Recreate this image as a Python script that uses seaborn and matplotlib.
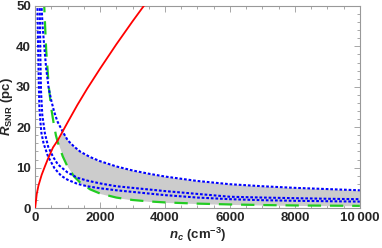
import numpy as np
import pandas as pd
import seaborn as sns
import matplotlib.pyplot as plt
from matplotlib.ticker import MultipleLocator, FixedLocator

# red: solid curve rising from origin
n_red = [0, 50, 100, 200, 300, 400, 550, 700, 850, 1000, 1300, 1600, 2000, 2500, 3000, 3400]
r_red = [0, 3.5, 5.5, 8.2, 10.3, 12.3, 15.0, 16.8, 19.0, 21.2, 25.5, 29.5, 34.5, 40.5, 46.2, 50.6]

# green dashed (lower edge of band) and upper blue dotted share a grid
n_gu = [180, 200, 230, 280, 340, 420, 500, 580, 640, 700, 850, 1000, 1200, 1400, 1700,
        2000, 2500, 3000, 3500, 4000, 5000, 6000, 7000, 8000, 9000, 10000]
r_green = [78, 70, 61, 50, 39, 30, 24.5, 20.5, 18.0, 16.2, 12.8, 10.2, 7.8, 6.2, 4.6,
           3.6, 2.6, 2.0, 1.65, 1.4, 1.1, 0.9, 0.75, 0.65, 0.6, 0.55]
r_blue_up = [52, 49.5, 45, 40, 34.5, 29.5, 26.5, 24.0, 22.5, 21.2, 18.9, 16.8, 15.2, 13.9, 12.6,
             11.6, 10.3, 9.3, 8.5, 7.8, 6.7, 5.9, 5.4, 5.0, 4.7, 4.4]

# middle blue dotted
n_blue_mid = [135, 145, 160, 180, 220, 300, 400, 550, 700, 1000, 1300, 1600, 2000, 2500,
              3000, 4000, 5000, 6000, 7000, 8000, 9000, 10000]
r_blue_mid = [55, 48, 38, 29, 23, 18.5, 15.2, 12.7, 10.8, 8.8, 7.5, 6.8, 6.1, 5.4,
              5.0, 4.2, 3.5, 2.8, 2.6, 2.45, 2.3, 2.2]

# lowest blue dotted
n_blue_low = [60, 70, 90, 115, 130, 160, 195, 260, 400, 600, 800, 1000, 1300, 1600, 2000,
              2500, 3000, 4000, 5000, 6000, 7000, 8000, 9000, 10000]
r_blue_low = [55, 50, 40, 30, 25, 21.5, 18.5, 16.0, 12.7, 9.8, 8.0, 7.0, 6.0, 5.4, 4.9,
              4.4, 4.0, 3.2, 2.6, 2.2, 1.95, 1.8, 1.7, 1.6]

sns.set_style("ticks")
plt.rcParams["font.family"] = ["Liberation Sans", "DejaVu Sans"]
plt.rcParams["mathtext.fontset"] = "custom"
plt.rcParams["mathtext.rm"] = "Liberation Sans:bold"
plt.rcParams["mathtext.bf"] = "Liberation Sans:bold"
plt.rcParams["mathtext.it"] = "Liberation Sans:italic:bold"

fig = plt.figure(figsize=(3.82, 2.48), dpi=100)
ax = fig.add_axes([0.092, 0.161, 0.850, 0.815])

# shaded band: between green and upper blue, capped by red on the left
gu = pd.DataFrame({"n": n_gu, "green": r_green, "up": r_blue_up})
red_at = np.interp(gu["n"], n_red, r_red, right=np.inf)
top = np.minimum(gu["up"], red_at)
mask = red_at >= gu["green"]
ax.fill_between(gu["n"], gu["green"], top, where=mask, color="#cccccc", lw=0, zorder=1)

sns.lineplot(x=n_red, y=r_red, color="#ff0000", lw=1.3, ax=ax, zorder=3)
sns.lineplot(x=n_gu, y=r_green, color="#22cc22", lw=1.6, linestyle=(0, (6, 4)), ax=ax, zorder=2)
for nn, rr in [(n_gu, r_blue_up), (n_blue_mid, r_blue_mid), (n_blue_low, r_blue_low)]:
    sns.lineplot(x=nn, y=rr, color="#0000ff", lw=1.5, linestyle=(0, (1.3, 0.9)), ax=ax, zorder=2)

ax.set_xlim(0, 10000)
ax.set_ylim(0, 50)
ax.xaxis.set_major_locator(FixedLocator([0, 2000, 4000, 6000, 8000, 10000]))
ax.xaxis.set_minor_locator(MultipleLocator(500))
ax.yaxis.set_major_locator(MultipleLocator(10))
ax.yaxis.set_minor_locator(MultipleLocator(2))
ax.set_xticklabels(["0", "2000", "4000", "6000", "8000", "10\u2009000"])

for s in ax.spines.values():
    s.set_color("#999999")
    s.set_linewidth(0.8)
ax.tick_params(which="both", direction="in", top=True, right=True, color="#999999", width=0.6)
ax.tick_params(which="major", length=4, labelsize=9.5, pad=3)
ax.tick_params(which="minor", length=2)
for lab in ax.get_xticklabels() + ax.get_yticklabels():
    lab.set_fontweight("bold")

ax.set_xlabel(r"$n_c$ (cm$^{-3}$)", fontsize=9.5, fontweight="bold", labelpad=1)
ax.set_ylabel(r"$R_{\mathrm{SNR}}$ (pc)", fontsize=9.5, fontweight="bold", labelpad=1)

fig.savefig("out.png", dpi=100, facecolor="white")
